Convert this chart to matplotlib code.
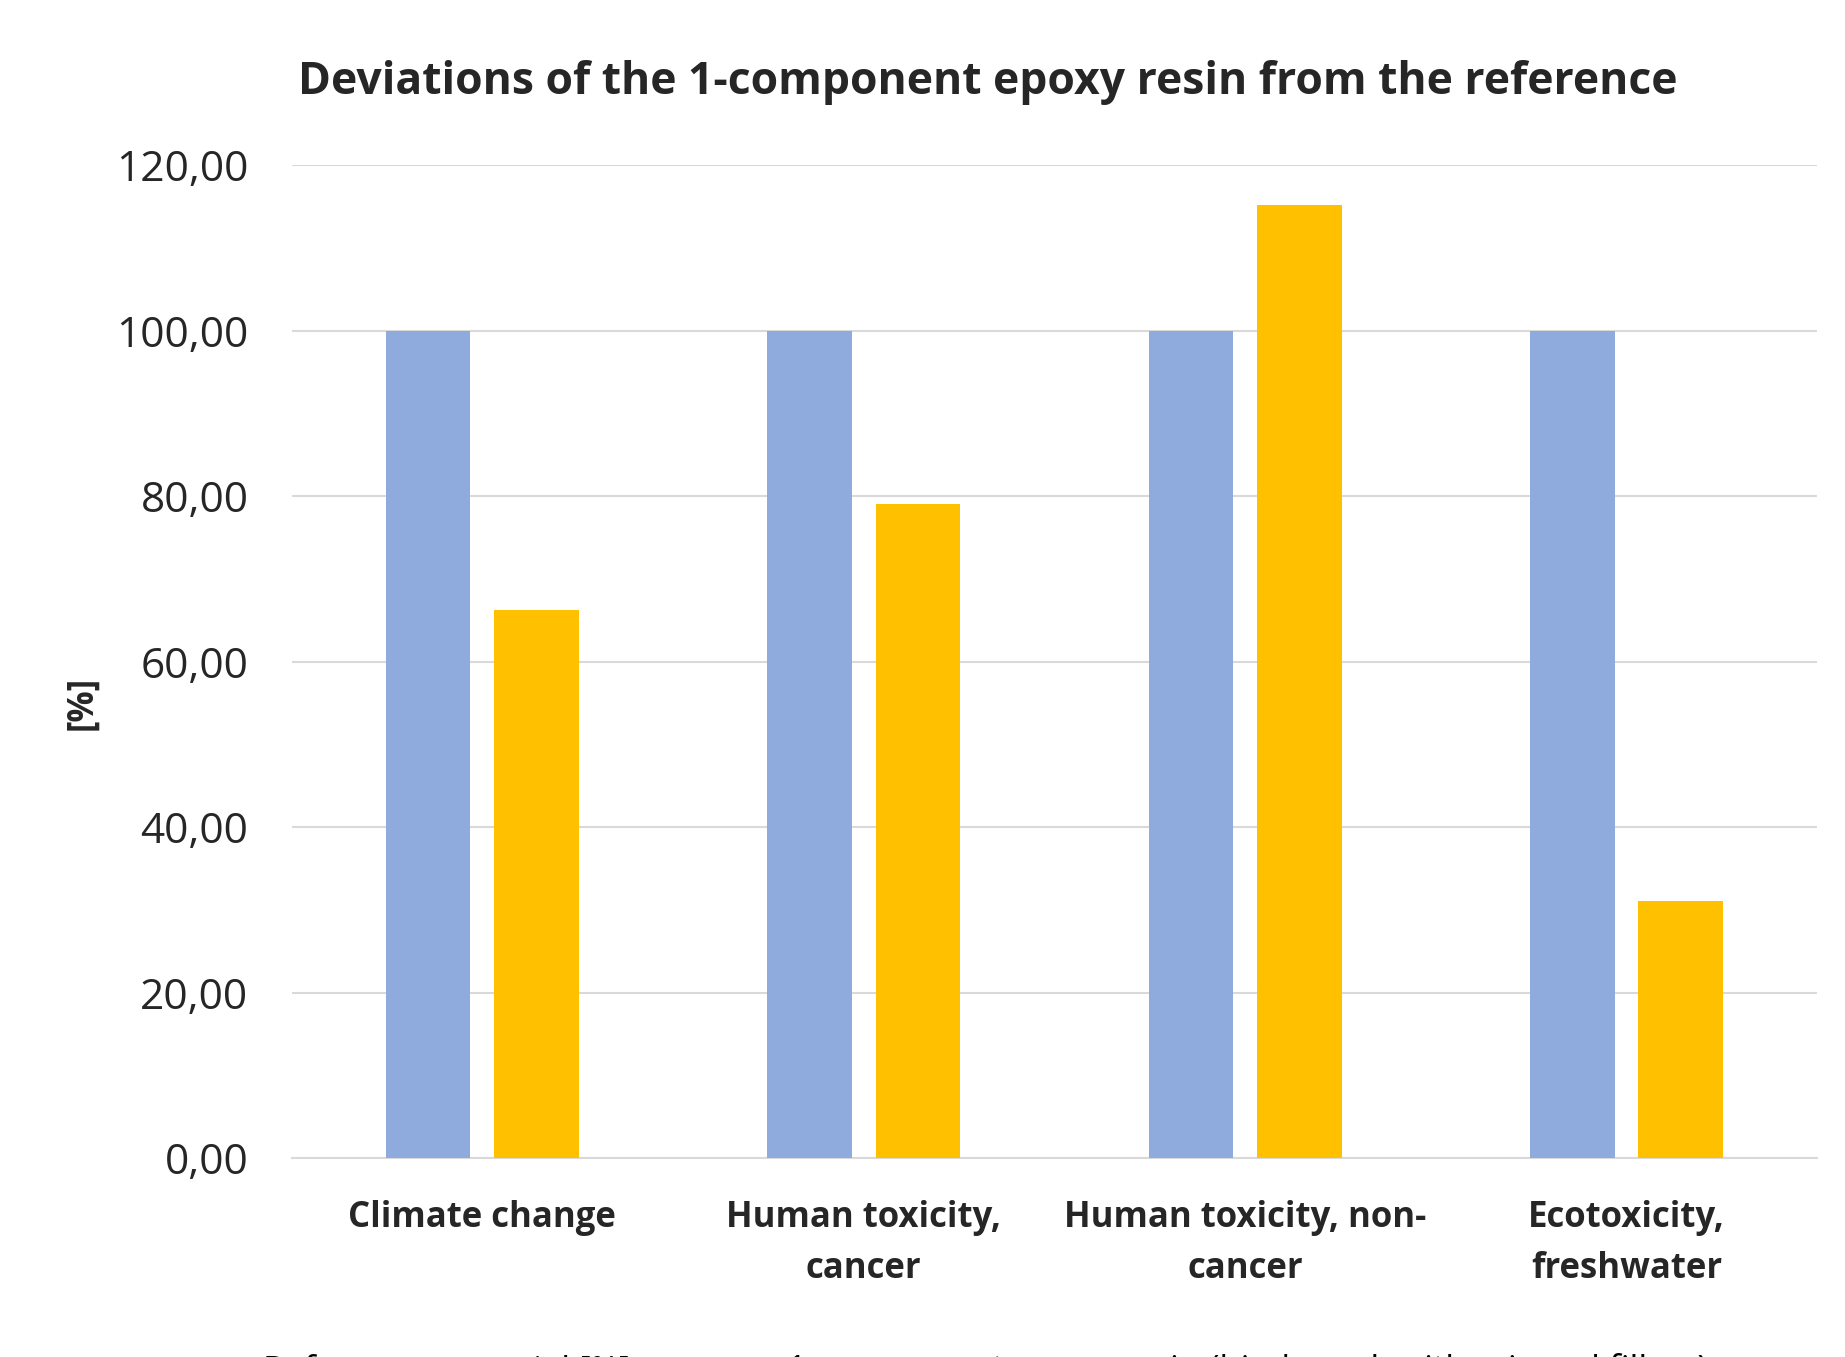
import numpy as np
import matplotlib.pyplot as plt

# Impact categories and relative results (reference = 100 %)
categories = ['Climate change', 'Human toxicity,\ncancer', 'Human toxicity, non-\ncancer', 'Ecotoxicity,\nfreshwater']
reference = [100.0, 100.0, 100.0, 100.0]
epoxy_1k = [66.2, 79.0, 115.2, 31.1]
series_names = ['Reference material [%]', '1-component epoxy resin (bio-based, with mineral fillers)']
yticks = [0, 20, 40, 60, 80, 100, 120]

plt.rcParams['font.family'] = ['Open Sans', 'DejaVu Sans']

fig = plt.figure(figsize=(18.45, 13.57), dpi=100)
ax = fig.add_axes([0.158, 0.1466, 0.827, 0.7318])

x = np.arange(len(categories))
w = 0.222
off = 0.142
ax.bar(x - off, reference, w, color='#8FAADC', label=series_names[0], zorder=3)
ax.bar(x + off, epoxy_1k, w, color='#FFC000', label=series_names[1], zorder=3)

ax.set_xlim(-0.5, len(categories) - 0.5)
ax.set_ylim(0, 120)
ax.set_yticks(yticks)
ax.set_yticklabels(['%d,00' % v for v in yticks], fontsize=30.5, color='#262626')
ax.set_xticks(x)
ax.set_xticklabels(categories, fontsize=25, fontweight='bold', color='#262626', linespacing=1.55)
ax.tick_params(axis='both', length=0)
ax.tick_params(axis='y', pad=31)
ax.tick_params(axis='x', pad=30)

ax.grid(axis='y', color='#d9d9d9', linewidth=1.5, zorder=0)
for s in ['top', 'right', 'left']:
    ax.spines[s].set_visible(False)
ax.spines['bottom'].set_color('#d9d9d9')
ax.spines['bottom'].set_linewidth(1.5)

ax.set_ylabel('[%]', fontsize=25, fontweight='bold', color='#262626')
ax.yaxis.set_label_coords(-0.125, 0.4585)
fig.text(0.5355, 0.9395, 'Deviations of the 1-component epoxy resin from the reference',
         ha='center', va='center', fontsize=32, fontweight='bold', color='#262626')

# legend sits at the lower edge of the figure
fig.legend(loc='upper center', bbox_to_anchor=(0.52, 0.0155), ncol=2, frameon=False,
           fontsize=25, borderpad=0, handlelength=0.7, handleheight=0.5, columnspacing=3)

plt.savefig('out.png', dpi=100)
